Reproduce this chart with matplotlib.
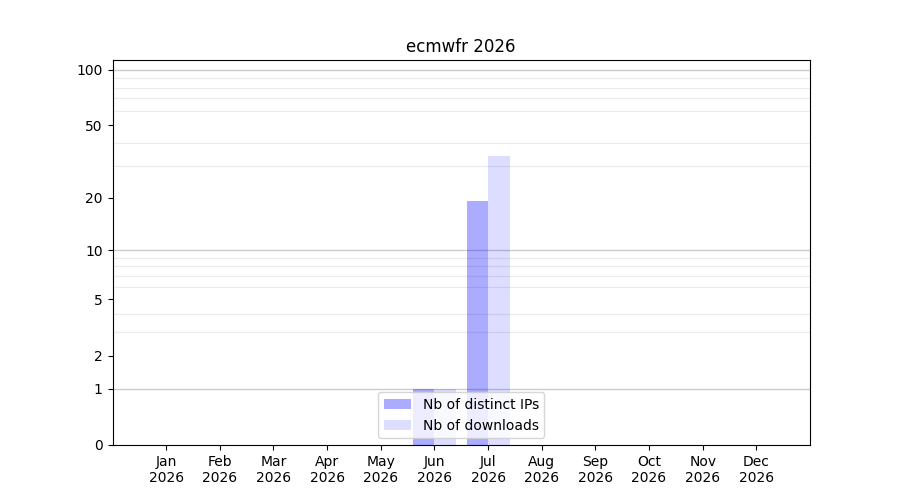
import numpy as np
import matplotlib
matplotlib.use("Agg")
import matplotlib.pyplot as plt

months = ["Jan", "Feb", "Mar", "Apr", "May", "Jun", "Jul", "Aug", "Sep", "Oct", "Nov", "Dec"]
year = 2026
distinct_ips = [0, 0, 0, 0, 0, 1, 19, 0, 0, 0, 0, 0]
downloads = [0, 0, 0, 0, 0, 1, 34, 0, 0, 0, 0, 0]

x = np.arange(1, len(months) + 1)
w = 0.4

fig, ax = plt.subplots(figsize=(9, 5), dpi=100)

ax.set_yscale("function", functions=(lambda v: np.log10(1 + np.clip(v, 0, None)),
                                     lambda v: 10 ** v - 1))

ax.bar(x - w, distinct_ips, width=w, align="edge", color="blue", alpha=0.33,
       label="Nb of distinct IPs")
ax.bar(x, downloads, width=w, align="edge", color="blue", alpha=0.133,
       label="Nb of downloads")

# grid: light lines at 2..9, 20..90, darker at decades
minor = [m * d for d in (1, 10) for m in range(2, 10)]
ax.set_yticks(minor, minor=True)
ax.tick_params(axis="y", which="minor", length=0)
ax.grid(True, axis="y", which="minor", color="#ebebeb", linewidth=0.8)
for d in (1, 10, 100):
    ax.axhline(d, color="#cccccc", linewidth=1, zorder=0.5)
ax.set_axisbelow(True)

ax.set_yticks([0, 1, 2, 5, 10, 20, 50, 100])
ax.set_yticklabels(["0", "1", "2", "5", "10", "20", "50", "100"])
ax.set_ylim(0, 113)

ax.set_xticks(x)
ax.set_xticklabels([f"{m}\n{year}" for m in months])
ax.set_xlim(0, 13)

ax.set_title(f"ecmwfr {year}")
ax.legend(loc="lower center")

fig.savefig("out.png")
